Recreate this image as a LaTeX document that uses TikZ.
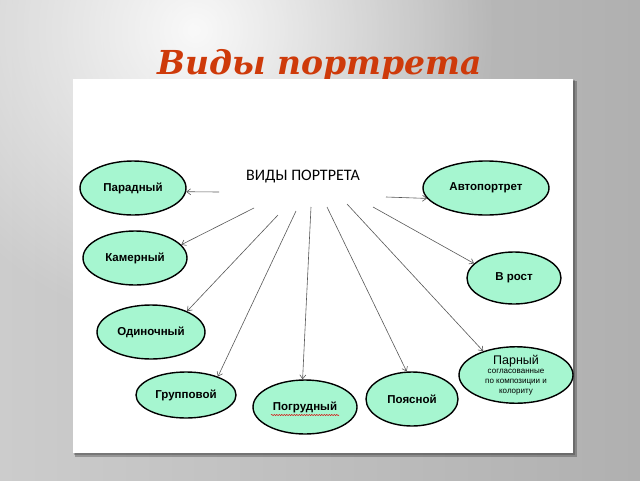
\documentclass[tikz,border=0pt]{standalone}
\usepackage{fontspec}
\setmainfont{Liberation Sans}
\newfontfamily\titlefont{DejaVu Serif}
\newfontfamily\headfont{Carlito}
\usetikzlibrary{arrows.meta,shapes.geometric,fadings,decorations.pathmorphing}

\definecolor{titlered}{RGB}{206,58,10}
\definecolor{mint}{RGB}{166,246,208}
\tikzfading[name=glow, inner color=transparent!0, outer color=transparent!100]

\begin{document}
\begin{tikzpicture}[x=1pt, y=-1pt, >={Straight Barb[length=4pt,width=6pt]}]
    \useasboundingbox (0,0) rectangle (640,480);

    % slide background
    \begin{scope}
        \clip (0,0) rectangle (640,480);
        \shade[left color=gray!40, right color=gray!62] (0,0) rectangle (640,480);
        \fill[white, opacity=0.9, path fading=glow] (195,30) circle (300);
    \end{scope}
    \node[font=\titlefont\bfseries\itshape\fontsize{33}{40}\selectfont, text=titlered, anchor=base] (T_0) at (320,74) {Виды портрета};

    % white sheet with its shadow
    \fill[black, opacity=0.25] (75,81) rectangle (577,457);
    \fill[black, opacity=0.2] (74,80) rectangle (575,455);
    \fill[white] (73,79) rectangle (573,453);

    \node[font=\headfont\fontsize{16}{18}\selectfont] (H) at (303,177) {ВИДЫ ПОРТРЕТА};

    \begin{scope}[every node/.style={draw=black,ellipse,line width=1.4pt,fill=mint,inner sep=0pt,font=\bfseries\fontsize{11.5}{13}\selectfont}]
        \node[minimum width=106pt, minimum height=54pt] (K_1) at (133,188) {Парадный};
        \node[minimum width=104pt, minimum height=54pt] (K_2) at (135,258) {Камерный};
        \node[minimum width=108pt, minimum height=54pt] (K_3) at (151,332) {Одиночный};
        \node[minimum width=100pt, minimum height=46pt] (K_4) at (186,395) {Групповой};
        \node[minimum width=104pt, minimum height=54pt] (K_5) at (305,407) {Погрудный};
        \node[minimum width=92pt, minimum height=54pt] (K_6) at (412,399) {Поясной};
        \node[minimum width=114pt, minimum height=54pt, align=center, font=\fontsize{8}{10}\selectfont] (K_7) at (516,375)
            {{\fontsize{12.5}{13}\selectfont Парный}\\[-1pt]согласованные\\по композиции и\\колориту};
        \node[minimum width=94pt, minimum height=52pt] (K_8) at (514,278) {В рост};
        \node[minimum width=126pt, minimum height=54pt] (K_9) at (486,188) {Автопортрет};
    \end{scope}

    % spell-check mark
    \draw[red!85!black, line width=0.5pt, decorate, decoration={snake, amplitude=0.6pt, segment length=2.5pt}] (271,415) -- (339,415);

    \begin{scope}
        \coordinate (S_1) at (219,192);
        \coordinate (S_2) at (254,208);
        \coordinate (S_3) at (278,215);
        \coordinate (S_4) at (296,211);
        \coordinate (S_5) at (311,207);
        \coordinate (S_6) at (327,207);
        \coordinate (S_7) at (347,204);
        \coordinate (S_8) at (373,207);
        \coordinate (S_9) at (386,197);
    \end{scope}

    \begin{scope}[every edge/.style={draw=black!65, line width=0.6pt}]
        \path[->] (S_1) edge (K_1.-4);
        \path[->] (S_2) edge (K_2.16);
        \path[->] (S_3) edge (K_3.30);
        \path[->] (S_4) edge (K_4.30);
        \path[->] (S_5) edge (K_5.95);
        \path[->] (S_6) edge (K_6.101);
        \path[->] (S_7) edge (K_7.144);
        \path[->] (S_8) edge (K_8.160);
        \path[->] (S_9) edge (K_9.190);
    \end{scope}
\end{tikzpicture}
\end{document}
